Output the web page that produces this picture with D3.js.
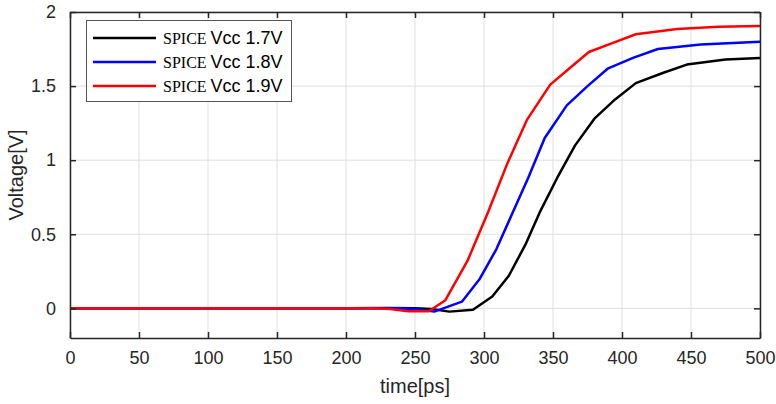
<!DOCTYPE html>
<html><head><meta charset="utf-8">
<script src="https://cdn.jsdelivr.net/npm/d3@7"></script>
<style>body{margin:0;background:#fff}svg{display:block}</style>
</head><body><svg id="c" width="776" height="404"></svg>
<script>
const xTicks = [0,50,100,150,200,250,300,350,400,450,500];
const yTicks = [0,0.5,1,1.5,2];
const seriesNames = ["Vcc 1.7V","Vcc 1.8V","Vcc 1.9V"];
const seriesColors = ["#000000","#0000ff","#ff0000"];
const black17 = [[0,0],[200,0],[230,0.002],[250,0],[262,-0.005],[275,-0.022],[292,-0.01],[306,0.08],[318,0.22],[330,0.43],[341,0.66],[353,0.88],[366,1.1],[380,1.28],[395,1.41],[410,1.52],[430,1.59],[447,1.645],[475,1.68],[500,1.69]];
const blue18 = [[0,0],[220,0],[240,0],[255,-0.01],[264,-0.022],[284,0.045],[297,0.2],[309,0.4],[320,0.63],[332,0.88],[344,1.15],[360,1.37],[375,1.5],[390,1.62],[408,1.69],[426,1.75],[457,1.78],[500,1.8]];
const red19 = [[0,0],[220,0],[232,-0.005],[245,-0.02],[260,-0.02],[272,0.055],[288,0.32],[303,0.65],[317,0.98],[331,1.27],[348,1.51],[362,1.62],[376,1.73],[393,1.79],[410,1.85],[440,1.885],[470,1.9],[500,1.905]];
const series = [black17, blue18, red19];

const svg = d3.select("#c");
const L=70,R=760,T=12,B=338;
const x = d3.scaleLinear().domain([0,500]).range([L,R]);
const y = d3.scaleLinear().domain([-0.2,2]).range([B,T]);
const font = "Liberation Sans, Arial, sans-serif";
const axc = "#262626";

// grid
svg.append("g").selectAll("line").data(xTicks).join("line")
  .attr("x1",d=>x(d)).attr("x2",d=>x(d)).attr("y1",T).attr("y2",B)
  .attr("stroke","#dfdfdf").attr("stroke-width",1);
svg.append("g").selectAll("line").data(yTicks).join("line")
  .attr("x1",L).attr("x2",R).attr("y1",d=>y(d)).attr("y2",d=>y(d))
  .attr("stroke","#dfdfdf").attr("stroke-width",1);

// lines
const line = d3.line().x(d=>x(d[0])).y(d=>y(d[1]));
series.forEach((s,i)=>{
  svg.append("path").datum(s).attr("d",line).attr("fill","none")
    .attr("stroke",seriesColors[i]).attr("stroke-width",2.5).attr("stroke-linejoin","round");
});

// axes
function styleAxis(g){
  g.select(".domain").attr("stroke",axc).attr("stroke-width",1.5);
  g.selectAll(".tick line").attr("stroke",axc).attr("stroke-width",1.5);
  g.selectAll(".tick text").attr("fill",axc).attr("font-family",font).attr("font-size",18);
}
svg.append("g").attr("transform",`translate(0,${B})`)
  .call(d3.axisBottom(x).tickValues(xTicks).tickSizeInner(-6).tickSizeOuter(0).tickPadding(13))
  .call(styleAxis);
svg.append("g").attr("transform",`translate(0,${T})`)
  .call(d3.axisTop(x).tickValues(xTicks).tickSizeInner(-6).tickSizeOuter(0).tickFormat(""))
  .call(styleAxis);
svg.append("g").attr("transform",`translate(${L},0)`)
  .call(d3.axisLeft(y).tickValues(yTicks).tickSizeInner(-6).tickSizeOuter(0).tickPadding(14).tickFormat(d3.format("")))
  .call(styleAxis);
svg.append("g").attr("transform",`translate(${R},0)`)
  .call(d3.axisRight(y).tickValues(yTicks).tickSizeInner(-6).tickSizeOuter(0).tickFormat(""))
  .call(styleAxis);

// axis labels
svg.append("text").attr("x",(L+R)/2).attr("y",393).attr("text-anchor","middle")
  .attr("font-family",font).attr("font-size",20).attr("fill",axc).text("time[ps]");
svg.append("text").attr("transform",`translate(23,${(T+B)/2}) rotate(-90)`).attr("text-anchor","middle")
  .attr("font-family",font).attr("font-size",20).attr("fill",axc).text("Voltage[V]");

// legend
const lg = svg.append("g");
lg.append("rect").attr("x",86.5).attr("y",20.5).attr("width",205).attr("height",81)
  .attr("fill","#fff").attr("stroke","#555").attr("stroke-width",1);
seriesNames.forEach((n,i)=>{
  const yy = 38 + i*24;
  lg.append("line").attr("x1",93).attr("x2",156).attr("y1",yy).attr("y2",yy)
    .attr("stroke",seriesColors[i]).attr("stroke-width",2.5);
  const t = lg.append("text").attr("x",163).attr("y",yy+6).attr("fill","#000");
  t.append("tspan").attr("font-family","Liberation Serif, Times New Roman, serif").attr("font-size",16).text("SPICE");
  t.append("tspan").attr("font-family",font).attr("font-size",18).attr("dx",4).text(n);
});
</script></body></html>
